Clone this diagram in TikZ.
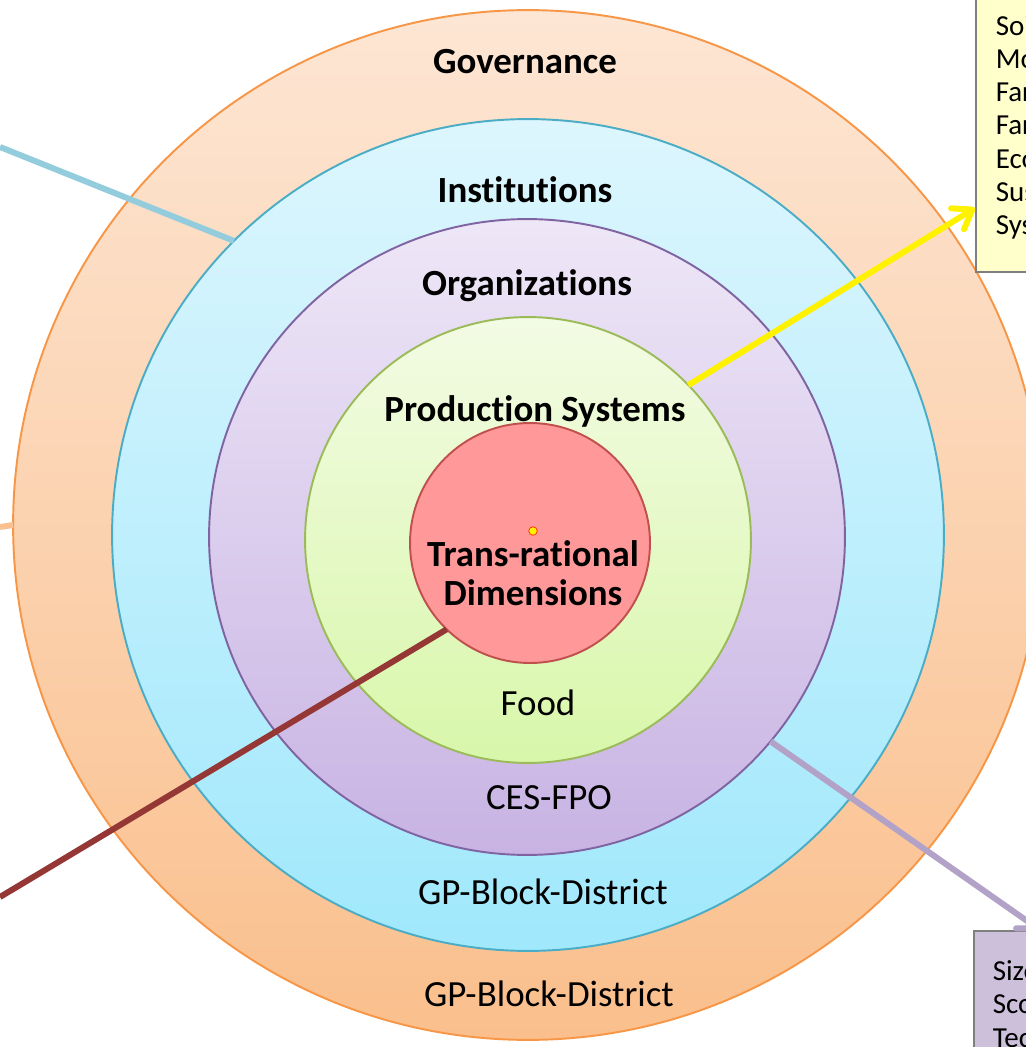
\documentclass[tikz,border=0pt]{standalone}
\usepackage{fontspec}
\setmainfont{Carlito}[Ligatures=CommonOff]
\usetikzlibrary{arrows.meta,positioning}
\definecolor{govtop}{HTML}{FDE6D4}
\definecolor{govbot}{HTML}{FABF8C}
\definecolor{govline}{HTML}{F79646}
\definecolor{insttop}{HTML}{DDF6FD}
\definecolor{instbot}{HTML}{A0E8FC}
\definecolor{instline}{HTML}{4BACC6}
\definecolor{orgtop}{HTML}{EEE7F7}
\definecolor{orgbot}{HTML}{C8B3E3}
\definecolor{orgline}{HTML}{8064A2}
\definecolor{prodtop}{HTML}{F3FBE4}
\definecolor{prodbot}{HTML}{D8F7AA}
\definecolor{prodline}{HTML}{9BBB59}
\definecolor{trfill}{HTML}{FF9999}
\definecolor{trline}{HTML}{C0504D}
\definecolor{bluelink}{HTML}{93CDDD}
\definecolor{orangelink}{HTML}{FAC090}
\definecolor{brownlink}{HTML}{953735}
\definecolor{purplelink}{HTML}{B3A2C7}
\definecolor{noteyellow}{HTML}{FFFFCC}
\definecolor{notepurple}{HTML}{CCC0DA}
\definecolor{boxgray}{HTML}{7F7F7F}
\tikzset{
  layer/.style   = {circle, draw, inner sep=0pt, outer sep=0pt, line width=1.1pt},
  title/.style   = {font=\fontsize{21}{22.2}\selectfont\bfseries, align=center},
  tier/.style    = {font=\fontsize{21}{22.2}\selectfont},
  infobox/.style = {draw=boxgray, line width=0.9pt, rectangle, align=left,
                    text width=3cm, font=\fontsize{16.5}{18.9}\selectfont},
  link/.style    = {line width=3.4pt}
}
\begin{document}
\begin{tikzpicture}[x=0.02cm, y=-0.02cm,
    >={Straight Barb[length=10pt,width=14pt,round]}]
  \useasboundingbox (0,0) rectangle (1026,1047);

  % the rings, outermost first
  \node[layer, draw=govline, top color=govtop, bottom color=govbot,
        minimum size=20.6cm] (gov) at (528,525) {};
  \node[layer, draw=instline, top color=insttop, bottom color=instbot,
        minimum size=16.64cm] (inst) at (528,535) {};
  \node[layer, draw=orgline, top color=orgtop, bottom color=orgbot,
        minimum size=12.72cm] (org) at (527,537) {};
  \node[layer, draw=prodline, top color=prodtop, bottom color=prodbot,
        minimum size=8.92cm] (prod) at (528,540) {};
  \node[layer, draw=trline, fill=trfill, minimum size=4.8cm] (trd) at (530,543) {};
  \node[circle, fill=yellow, draw=red!70!orange, inner sep=0pt,
        minimum size=0.17cm, line width=0.4pt] (handle) at (533,531) {};

  % ring titles
  \node[title] (govlbl)  at (525,62)  {Governance};
  \node[title] (instlbl) at (525,190) {Institutions};
  \node[title] (orglbl)  at (527,286) {Organizations};
  \node[title] (prodlbl) at (535,411) {Production Systems};
  \node[title] (trdlbl)  at (533,573) {Trans-rational\\Dimensions};

  % scale of each ring
  \node[tier] (food) at (538,703) {Food};
  \node[tier] (ces)  at (549,798) {CES-FPO};
  \node[tier] (gpin) at (543,892) {GP-Block-District};
  \node[tier] (gpgo) at (549,994) {GP-Block-District};

  % side notes, cut by the page edge
  \node[infobox, fill=noteyellow, anchor=south west, minimum height=5.8cm,
        inner xsep=0.4cm] (facts) at (975,273)
        {Soi\\Mo\\Far\\Far\\Eco\\Sus\\Sys};
  \node[infobox, fill=notepurple, anchor=north west, inner xsep=0.38cm,
        inner ysep=0.6cm] (scales) at (973,930) {Size\\Sco\\Tec};

  % loose ends of the connectors
  \coordinate (bluestart)   at (0,147);
  \coordinate (orangestart) at (0,527);
  \coordinate (brownstart)  at (0,897);
  \coordinate (ytip)        at (975,208);
  \coordinate (ptip)        at (1040,930);

  \draw[link, bluelink] (bluestart) -- (inst.135);
  \draw[link, orangelink] (orangestart) -- (gov.180);
  \draw[link, brownlink] (brownstart) -- (trd.226);
  \draw[link, yellow, ->] (prod.44) -- (ytip);
  \draw[link, purplelink, ->] (org.-40) -- (ptip);
\end{tikzpicture}
\end{document}
